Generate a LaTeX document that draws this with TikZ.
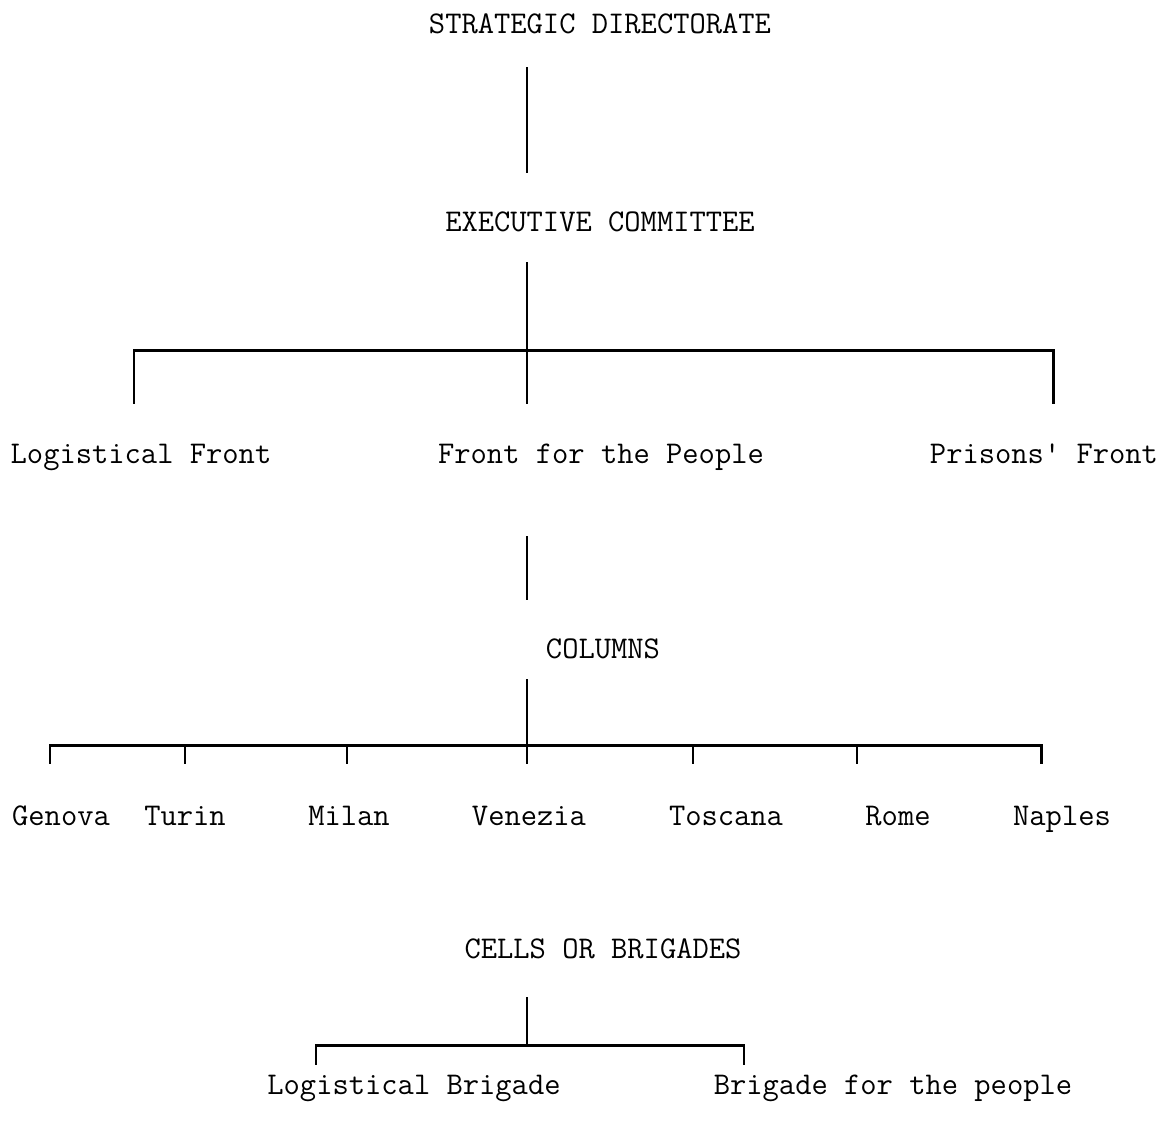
\documentclass[tikz,border=0pt]{standalone}
\usepackage{fontspec}
\usetikzlibrary{positioning}

\begin{document}
\begin{tikzpicture}[
  x=0.02cm, y=-0.02cm,
  lbl/.style={font=\ttfamily\fontsize{18}{21}\selectfont, inner sep=0pt, anchor=base},
  link/.style={line width=1.7pt, line cap=rect}
]
\useasboundingbox (0,0) rectangle (1164,1130);

% levels
\node[lbl] (sd)  at (600,33)  {STRATEGIC DIRECTORATE};
\node[lbl] (ec)  at (600,231) {EXECUTIVE COMMITTEE};

\node[lbl] (lf)  at (141,463)  {Logistical Front};
\node[lbl] (fp)  at (601,463)  {Front for the People};
\node[lbl] (pf)  at (1044,463) {Prisons' Front};

\node[lbl] (col) at (603,658) {COLUMNS};

\node[lbl] (gen) at (61,825)   {Genova};
\node[lbl] (tur) at (185,825)  {Turin};
\node[lbl] (mil) at (349,825)  {Milan};
\node[lbl] (ven) at (529,825)  {Venezia};
\node[lbl] (tos) at (726,825)  {Toscana};
\node[lbl] (rom) at (898,825)  {Rome};
\node[lbl] (nap) at (1062,825) {Naples};

\node[lbl] (cb)  at (603,958)  {CELLS OR BRIGADES};

\node[lbl] (lb)  at (414,1094) {Logistical Brigade};
\node[lbl] (bp)  at (893,1094) {Brigade for the people};

% junction points
\coordinate (sdb) at (527,68);
\coordinate (ect) at (527,172);
\coordinate (ecb) at (527,263);
\coordinate (fj)  at (527,350);
\coordinate (fpb) at (527,537);
\coordinate (colt) at (527,598);
\coordinate (colb) at (527,680);
\coordinate (cj)  at (527,745);
\coordinate (cbb) at (527,998);
\coordinate (bj)  at (527,1045);

% connectors
\draw[link] (sdb) -- (ect);
\draw[link] (ecb) -- (527,402);
\draw[link] (134,402) |- (fj) -| (1053,402);
\draw[link] (fpb) -- (colt);
\draw[link] (colb) -- (cj);
\draw[link] (50,762) |- (cj) -| (1041,762);
\foreach \x in {185,347,527,693,857}
  \draw[link] (\x,745) -- (\x,762);
\draw[link] (cbb) -- (bj);
\draw[link] (316,1063) |- (bj) -| (744,1063);
\end{tikzpicture}
\end{document}
